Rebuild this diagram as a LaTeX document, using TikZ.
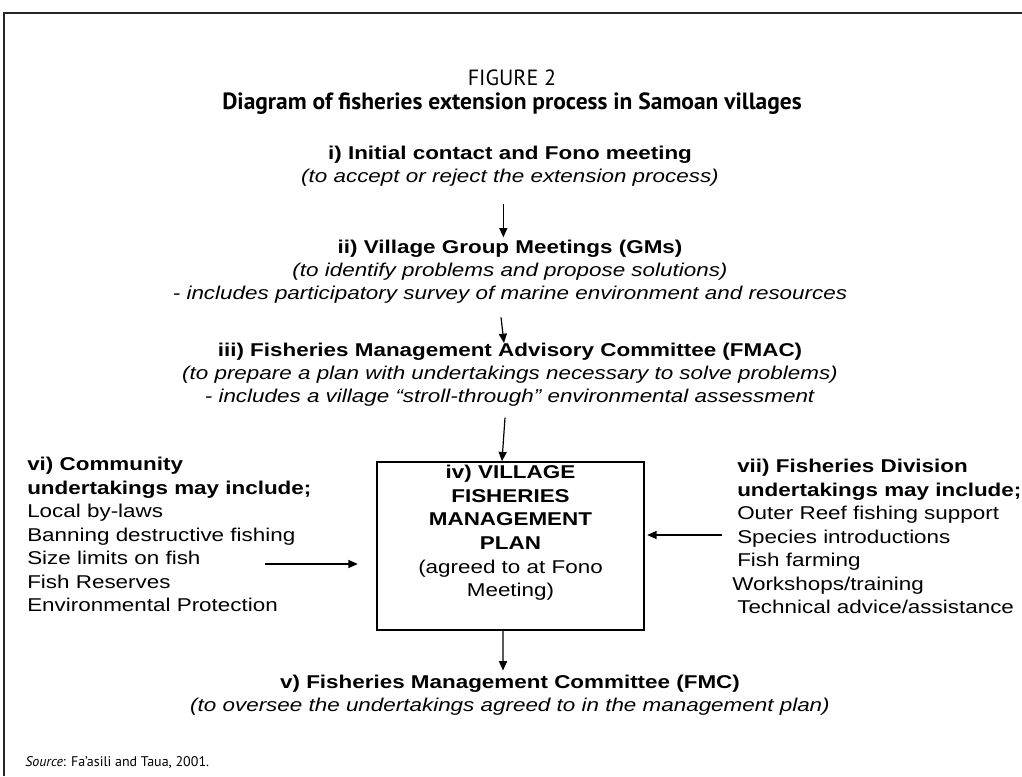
\documentclass[tikz,border=0pt]{standalone}
\usepackage{fontspec}
\setmainfont{Liberation Sans}[FakeStretch=1.21]
\newfontfamily\capfont{PT Sans}
\usetikzlibrary{arrows.meta, positioning}

\begin{document}
\begin{tikzpicture}[x=0.75pt, y=-0.75pt,
    txt/.style={inner sep=0pt, align=center, font=\fontsize{13.9}{17.3}\selectfont},
    side/.style={inner sep=0pt, align=left, anchor=north west, font=\fontsize{13.9}{17.6}\selectfont},
    arr/.style={-{Triangle[length=7pt, width=6pt]}, line width=0.9pt}]
    \useasboundingbox (0,0) rectangle (1022,776);
    \draw[line width=1.3pt, black!85] (4,776) -- (4,13) -- (1022,13);
    \node[inner sep=0pt, font=\capfont\fontsize{16.5}{18}\selectfont] (fignum) at (512,78) {FIGURE 2};
    \node[inner sep=0pt, font=\capfont\bfseries\fontsize{17.6}{19}\selectfont] (title) at (512,104) {Diagram of fisheries extension process in Samoan villages};
    \node[txt] (initial) at (510,166) {\textbf{i) Initial contact and Fono meeting}\\
        \textit{(to accept or reject the extension process)}};
    \node[txt] (groups) at (510,272) {\textbf{ii) Village Group Meetings (GMs)}\\
        \textit{(to identify problems and propose solutions)}\\
        \textit{- includes participatory survey of marine environment and resources}};
    \node[txt] (fmac) at (510,375) {\textbf{iii) Fisheries Management Advisory Committee (FMAC)}\\
        \textit{(to prepare a plan with undertakings necessary to solve problems)}\\
        \textit{- includes a village “stroll-through” environmental assessment}};
    \node[draw, line width=1.1pt, minimum width=200pt, minimum height=126pt] (plan) at (510.5,546) {};
    \node[txt, anchor=north, font=\fontsize{13.9}{17.8}\selectfont] (plantxt) at ([yshift=-2.5pt]plan.north)
        {\textbf{iv) VILLAGE}\\ \textbf{FISHERIES}\\ \textbf{MANAGEMENT}\\ \textbf{PLAN}\\
        (agreed to at Fono\\ Meeting)};
    \node[side] (community) at (27,457) {\textbf{vi) Community}\\ \textbf{undertakings may include;}\\
        Local by-laws\\ Banning destructive fishing\\ Size limits on fish\\ Fish Reserves\\
        Environmental Protection};
    \node[side] (division) at (737,459) {\textbf{vii) Fisheries Division}\\ \textbf{undertakings may include;}\\
        Outer Reef fishing support\\ Species introductions\\ Fish farming\\
        \hspace*{-3.75pt}Workshops/training\\ Technical advice/assistance};
    \node[txt] (fmc) at (510,695) {\textbf{v) Fisheries Management Committee (FMC)}\\
        \textit{(to oversee the undertakings agreed to in the management plan)}};
    \node[inner sep=0pt, anchor=west, font=\capfont\fontsize{10.5}{12}\selectfont] (source) at (25,763)
        {\textit{Source}: Fa’asili and Taua, 2001.};
    \coordinate (cfrom) at (265,564);
    \coordinate (dfrom) at (722,535);
    \draw[arr] ([xshift=-5pt,yshift=-13pt]initial.south) -- ([xshift=-5pt,yshift=2pt]groups.north);
    \draw[arr] ([xshift=-6.75pt,yshift=-10pt]groups.south) -- ([xshift=-4.5pt]fmac.north);
    \draw[arr] ([xshift=-3.75pt,yshift=-8pt]fmac.south) -- ([xshift=-6.4pt]plan.north);
    \draw[arr] ([xshift=-5.6pt]plan.south) -- ([xshift=-5.25pt,yshift=3pt]fmc.north);
    \draw[arr, shorten >=14pt] (cfrom) -- (cfrom -| plan.west);
    \draw[arr, shorten >=2pt] (dfrom) -- (dfrom -| plan.east);
\end{tikzpicture}
\end{document}
